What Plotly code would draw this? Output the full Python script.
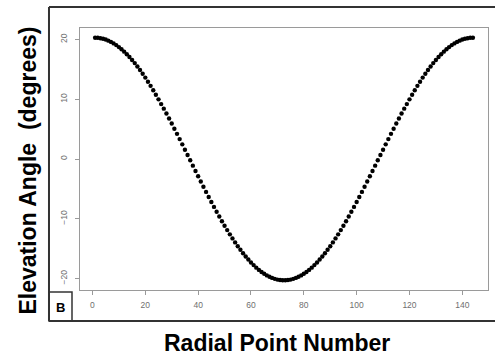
import plotly.graph_objects as go

# Radial point index and measured elevation angle (degrees)
radial_point = list(range(1, 145))
elevation_deg = [
    20.30, 20.28, 20.22, 20.12, 19.99, 19.81, 19.60, 19.35, 19.06, 18.73,
    18.37, 17.97, 17.54, 17.08, 16.58, 16.05, 15.48, 14.89, 14.27, 13.62,
    12.94, 12.24, 11.51, 10.76, 9.98, 9.19, 8.43, 7.61, 6.78, 5.93,
    5.07, 4.21, 3.33, 2.45, 1.56, 0.67, -0.22, -1.11, -2.00, -2.89,
    -3.77, -4.64, -5.51, -6.36, -7.20, -8.02, -8.84, -9.63, -10.41, -11.16,
    -11.90, -12.61, -13.29, -13.96, -14.59, -15.20, -15.78, -16.32, -16.83, -17.31,
    -17.76, -18.18, -18.56, -18.90, -19.21, -19.48, -19.71, -19.90, -20.06, -20.18,
    -20.26, -20.30, -20.30, -20.26, -20.18, -20.06, -19.90, -19.71, -19.48, -19.21,
    -18.90, -18.56, -18.18, -17.76, -17.31, -16.83, -16.32, -15.78, -15.20, -14.59,
    -13.96, -13.29, -12.61, -11.90, -11.16, -10.41, -9.63, -8.84, -8.02, -7.20,
    -6.36, -5.51, -4.64, -3.77, -2.89, -2.00, -1.11, -0.22, 0.67, 1.56,
    2.45, 3.33, 4.21, 5.07, 5.93, 6.78, 7.61, 8.43, 9.19, 9.98,
    10.76, 11.51, 12.24, 12.94, 13.62, 14.27, 14.89, 15.48, 16.05, 16.58,
    17.08, 17.54, 17.97, 18.37, 18.73, 19.06, 19.35, 19.60, 19.81, 19.99,
    20.12, 20.22, 20.28, 20.30,
]
x_ticks = [0, 20, 40, 60, 80, 100, 120, 140]
y_ticks = [-20, -10, 0, 10, 20]

x_title = "Radial Point Number"
y_title = "Elevation Angle\u00a0\u00a0(degrees)"
panel_label = "B"

# R-style axis padding (4% of the data span on each side)
def padded(lo, hi, frac=0.04):
    pad = (hi - lo) * frac
    return [lo - pad, hi + pad]

fig = go.Figure(
    go.Scatter(
        x=radial_point,
        y=elevation_deg,
        mode="markers",
        marker=dict(color="black", size=4.4, line=dict(width=0)),
        showlegend=False,
    )
)

axis_grey = "#9a9a9a"
tick_font = dict(family="Liberation Sans, Arial, sans-serif", size=8.5, color="#6f6f6f")

fig.update_xaxes(
    range=padded(min(radial_point), max(radial_point)),
    tickvals=x_ticks,
    ticks="outside", ticklen=4, tickcolor=axis_grey, tickwidth=1,
    ticklabelstandoff=3,
    showline=True, linecolor=axis_grey, linewidth=1, mirror=True,
    showgrid=False, zeroline=False,
    tickfont=tick_font,
)
fig.update_yaxes(
    range=padded(min(elevation_deg), max(elevation_deg)),
    tickvals=y_ticks,
    ticks="outside", ticklen=4, tickcolor=axis_grey, tickwidth=1,
    ticklabelstandoff=5,
    showline=True, linecolor=axis_grey, linewidth=1, mirror=True,
    showgrid=False, zeroline=False,
    tickangle=-90,
    tickfont=tick_font,
)

title_font = dict(family="Liberation Sans, Arial, sans-serif", size=23, color="black")

frame_line = dict(color="#333333", width=2)
left, right, bottom, top = -0.076, 1.5, -0.118, 1.08

fig.update_layout(
    width=495,
    height=356,
    margin=dict(l=80, r=7, t=28, b=66),
    paper_bgcolor="white",
    plot_bgcolor="white",
    shapes=[
        # outer panel frame: left, top and bottom edges (open on the right)
        dict(type="line", xref="paper", yref="paper",
             x0=left, x1=left, y0=bottom, y1=top, line=frame_line, layer="below"),
        dict(type="line", xref="paper", yref="paper",
             x0=left, x1=right, y0=top, y1=top, line=frame_line, layer="below"),
        dict(type="line", xref="paper", yref="paper",
             x0=left, x1=right, y0=bottom, y1=bottom, line=frame_line, layer="below"),
        # panel letter box
        dict(type="rect", xref="paper", yref="paper",
             x0=left, x1=-0.0196, y0=bottom, y1=-0.008,
             line=dict(color="#333333", width=1.5), layer="below"),
    ],
    annotations=[
        dict(text="<b>" + panel_label + "</b>", xref="paper", yref="paper",
             x=-0.048, y=-0.066, xanchor="center", yanchor="middle", showarrow=False,
             font=dict(family="Liberation Sans, Arial, sans-serif", size=13, color="black")),
        dict(text="<b>" + x_title + "</b>", xref="paper", yref="paper",
             x=0.482, y=-0.203, yanchor="middle", showarrow=False, font=title_font),
        dict(text="<b>" + y_title + "</b>", xref="paper", yref="paper",
             x=-0.128, y=0.455, xanchor="center", yanchor="middle",
             textangle=-90, showarrow=False, font=title_font),
    ],
)

fig.write_html("out.html", config={"displayModeBar": False})
